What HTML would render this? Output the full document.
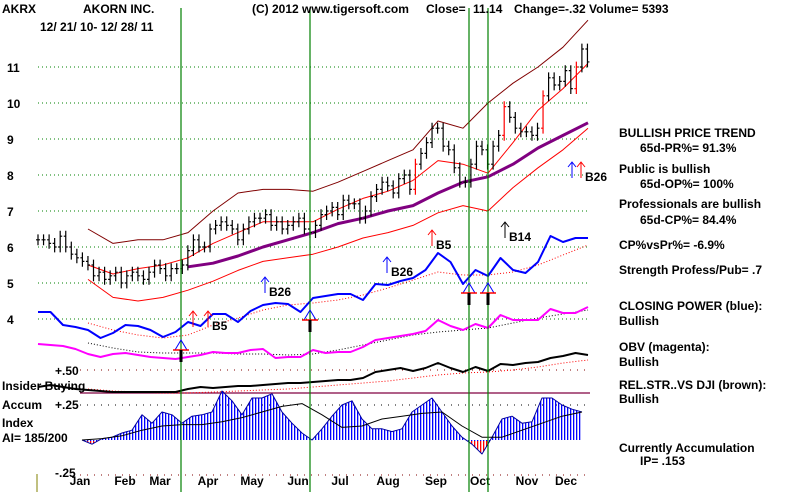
<!DOCTYPE html>
<html><head><meta charset="utf-8"><style>
body{margin:0;background:#fff}
svg{display:block}
text{font-family:"Liberation Sans",sans-serif;font-weight:bold;font-size:12px;fill:#000}
</style></head><body>
<svg id="chart" width="800" height="492" viewBox="0 0 800 492">
<defs>
<pattern id="blueStripe" width="3" height="4" patternUnits="userSpaceOnUse"><rect x="0" y="0" width="1.3" height="4" fill="#0000ff"/></pattern>
<pattern id="redStripe" width="3" height="4" patternUnits="userSpaceOnUse"><rect x="0" y="0" width="1.3" height="4" fill="#ff0000"/></pattern>
<clipPath id="above"><rect x="0" y="0" width="800" height="441"/></clipPath>
<clipPath id="below"><rect x="0" y="441" width="800" height="60"/></clipPath>
</defs>
<g id="grid"></g>
<g id="marks"></g>
<g id="labels">
<text x="2" y="13">AKRX</text>
<text x="83" y="13">AKORN INC.</text>
<text x="40" y="31">12/ 21/ 10- 12/ 28/ 11</text>
<text x="252" y="13">(C) 2012 www.tigersoft.com</text>
<text x="426" y="13">Close=</text>
<text x="473" y="13">11.14</text>
<text x="514" y="13">Change=-.32 Volume= 5393</text>
<text x="55" y="375">+.50</text>
<text x="2" y="390">Insider Buying</text>
<text x="2" y="409">Accum</text>
<text x="55" y="409">+.25</text>
<text x="2" y="427">Index</text>
<text x="2" y="442">AI= 185/200</text>
<text x="55" y="477">-.25</text>
<g>
<text x="619" y="137">BULLISH PRICE TREND</text>
<text x="640" y="152">65d-PR%= 91.3%</text>
<text x="619" y="173">Public is bullish</text>
<text x="640" y="188">65d-OP%= 100%</text>
<text x="619" y="208">Professionals are bullish</text>
<text x="640" y="224">65d-CP%= 84.4%</text>
<text x="619" y="249">CP%vsPr%= -6.9%</text>
<text x="619" y="274">Strength Profess/Pub= .7</text>
<text x="619" y="310">CLOSING POWER (blue):</text>
<text x="619" y="325">Bullish</text>
<text x="619" y="351">OBV (magenta):</text>
<text x="619" y="366">Bullish</text>
<text x="619" y="389">REL.STR..VS DJI (brown):</text>
<text x="619" y="403">Bullish</text>
<text x="619" y="452">Currently Accumulation</text>
<text x="640" y="465">IP=  .153</text>
</g>
</g>
</svg>
<script>
const priceTicks=[11,10,9,8,7,6,5,4];
const months=["Jan","Feb","Mar","Apr","May","Jun","Jul","Aug","Sep","Oct","Nov","Dec"];
const monthX=[80,125,160,208,252,298,340,388,436,480,527,566];
const signalLines=[181,310,469,488];
const closes=[6.2,6.2,6.1,6.0,6.3,6.0,5.8,5.7,5.6,5.5,
5.2,5.3,5.1,5.2,5.3,5.0,5.2,5.3,5.2,5.1,
5.3,5.5,5.4,5.2,5.4,5.4,5.5,5.9,6.2,6.0,
6.0,6.5,6.6,6.7,6.6,6.5,6.2,6.5,6.7,6.8,
6.8,6.9,6.6,6.7,6.5,6.6,6.7,6.8,6.5,6.4,
6.6,6.9,7.0,7.1,6.9,7.3,7.2,7.2,6.8,7.0,
7.4,7.6,7.8,7.7,7.5,7.9,8.0,7.6,8.3,8.6,
8.9,9.3,9.3,8.8,8.7,8.2,7.8,7.8,8.3,8.8,
8.7,8.3,8.8,9.1,9.9,9.6,9.3,9.2,9.2,9.1,
9.3,10.2,10.7,10.5,10.6,10.9,10.4,11.0,11.5,11.14];
const upperBand=[null,null,6.5,6.1,6.2,6.2,6.4,7.0,7.5,7.6,7.6,7.55,7.8,8.1,8.4,8.7,9.5,9.3,10.0,10.55,11.0,11.55,12.3];
const midMA=[null,null,5.5,5.25,5.4,5.5,5.7,6.1,6.4,6.7,6.7,6.7,7.05,7.35,7.55,7.85,8.4,8.3,8.05,8.9,9.8,10.4,11.1];
const lowerBand=[null,null,5.1,4.6,4.5,4.6,4.8,5.05,5.35,5.6,5.7,5.8,6.0,6.25,6.4,6.6,6.95,7.15,7.0,7.65,8.2,8.7,9.3];
const ma65=[null,null,null,null,null,null,5.45,5.55,5.75,6.0,6.2,6.4,6.65,6.8,7.0,7.15,7.5,7.8,7.95,8.3,8.75,9.1,9.45];
const closingPower=[38,38,25,23,20,12,17,25,24,20,13,18,28,24,36,36,28,39,45,47,46,38,52,54,56,56,50,66,65,69,72,80,97,88,66,80,74,92,80,77,88,114,108,112,112];
const cpMA=[null,null,27,20,15,12,15,25,32,40,45,47,50,55,62,70,78,75,75,78,85,95,105];
const obv=[56,55,54,51,46,43,46,47,45,43,42,41,43,45,48,47,47,50,51,42,43,43,50,47,48,48,53,60,62,64,66,69,80,74,70,76,72,85,80,80,80,91,87,87,93];
const obvMA=[null,null,57,52,48,47,47,47,46,46,45,46,50,55,60,65,68,70,72,77,82,86,90];
const relStr=[13,15,13,11,10,9,8,8,8,8,8,8,11,13,12,13,14,14,15,16,17,17,18,19,20,20,22,28,30,32,29,32,37,32,28,33,29,36,35,37,38,42,44,47,45];
const relStrMA=[null,null,11,9,8,7,7,8,9,10,11,13,15,17,19,22,25,27,28,30,33,37,40];
const accumIndex=[0.0,-0.03,0.01,0.02,0.05,0.07,0.18,0.12,0.2,0.18,0.12,0.17,0.18,0.2,0.35,0.28,0.18,0.3,0.3,0.33,0.2,0.12,0.05,0.0,0.08,0.17,0.25,0.28,0.15,0.08,0.08,0.06,0.08,0.2,0.25,0.3,0.2,0.1,0.02,-0.03,-0.1,0.02,0.15,0.17,0.12,0.13,0.3,0.3,0.25,0.22,0.2];
const accumMA=[0,0.01,0.03,0.07,0.1,0.11,0.11,0.13,0.16,0.2,0.24,0.26,0.18,0.09,0.1,0.15,0.17,0.19,0.2,0.1,0.02,0.02,0.07,0.12,0.17,0.2];

const NS="http://www.w3.org/2000/svg";
const grid=document.getElementById('grid'), marks=document.getElementById('marks');
const py=p=>67+(11-p)*36;
const bx=i=>38+i*5.55;
const gx=i=>38+i*25;
const fx=i=>38+i*12.5;
const cpY=v=>350-v, obvY=v=>400-v, rsY=v=>400-v, aiY=v=>440-v*140;
const aiX=i=>82+i*10, aiMX=i=>82+i*20;
function mk(tag,attrs,parent){const e=document.createElementNS(NS,tag);for(const k in attrs)e.setAttribute(k,attrs[k]);parent.appendChild(e);return e;}
function poly(arr,xf,yf,style,name){
  const pts=[];arr.forEach((v,i)=>{if(v!==null)pts.push(xf(i).toFixed(1)+','+yf(v).toFixed(1));});
  const e=mk('polyline',Object.assign({points:pts.join(' '),fill:'none','stroke-linejoin':'round'},style),marks);
  
  
}
priceTicks.forEach(p=>{
  const l=mk('line',{x1:38,x2:590,y1:py(p),y2:py(p),stroke:'#008000','stroke-dasharray':'1,3'},grid);
  
  
  const t=mk('text',{x:7,y:py(p)+5},grid);t.textContent=p;
  
  
});
[[370,'#800000'],[405,'#000'],[475,'#800000']].forEach(([y,c])=>{
  const l=mk('line',{x1:80,x2:590,y1:y,y2:y,stroke:c,'stroke-dasharray':'1,6'},grid);
  
  
});
const ins=mk('line',{x1:80,x2:590,y1:393,y2:393,stroke:'#800040','stroke-width':1.3},grid);


const ol=mk('line',{x1:37,x2:37,y1:474,y2:492,stroke:'#808000'},grid);


months.forEach((m,i)=>{
  const t=mk('text',{x:monthX[i],y:485,'text-anchor':'middle'},grid);t.textContent=m;
  
  
});
poly(upperBand,gx,py,{stroke:'#800000','stroke-width':1},'upper-band');
poly(lowerBand,gx,py,{stroke:'#ff0000','stroke-width':1},'lower-band');
poly(midMA,gx,py,{stroke:'#ff0000','stroke-width':1},'moving-average-21d');
poly(ma65,gx,py,{stroke:'#800080','stroke-width':3},'moving-average-65d');
closes.forEach((c,i)=>{
  const x=bx(i);const prev=i>0?closes[i-1]:c;
  const hi=Math.max(c,prev)+0.15, lo=Math.min(c,prev)-0.15;
  const col=(c-prev>0.55)?'#ff0000':'#000';
  const b=mk('path',{d:`M${x},${py(hi)}V${py(lo)}M${x-2},${py(prev)}H${x}M${x},${py(c)}H${x+2}`,stroke:col,'stroke-width':1.2,fill:'none'},marks);
  
  
});
poly(cpMA,gx,cpY,{stroke:'#ff0000','stroke-dasharray':'1,2'},'closing-power-ma');
poly(closingPower,fx,cpY,{stroke:'#0000ff','stroke-width':2},'closing-power-line');
poly(obvMA,gx,obvY,{stroke:'#000','stroke-dasharray':'1,2'},'obv-ma');
poly(obv,fx,obvY,{stroke:'#ff00ff','stroke-width':2},'obv-line');
poly(relStrMA,gx,rsY,{stroke:'#ff0000','stroke-dasharray':'1,2'},'relative-strength-ma');
poly(relStr,fx,rsY,{stroke:'#000','stroke-width':2},'relative-strength-line');
let d=`M${aiX(0)},${aiY(0)}`;
accumIndex.forEach((v,i)=>{d+=`L${aiX(i)},${aiY(v)}`;});
d+=`L${aiX(accumIndex.length-1)},${aiY(0)}Z`;
const ha=mk('path',{d:d,fill:'url(#blueStripe)','clip-path':'url(#above)'},marks);


const hb=mk('path',{d:d,fill:'url(#redStripe)','clip-path':'url(#below)'},marks);


poly(accumIndex,aiX,aiY,{stroke:'#0000a0','stroke-width':1},'accum-index-outline');
poly(accumMA,aiMX,aiY,{stroke:'#000','stroke-width':1},'accum-index-ma');
signalLines.forEach(x=>{
  const l=mk('line',{x1:x,x2:x,y1:8,y2:492,stroke:'#008000','stroke-width':1.2},marks);
  
  
});
function arrow(x,y,col,label,name){
  const a=mk('path',{d:`M${x},${y+16}V${y}M${x-4},${y+5}L${x},${y}L${x+4},${y+5}`,stroke:col,fill:'none','stroke-width':1},marks);
  
  
  if(label){const t=mk('text',{x:x+4,y:y+19},marks);t.textContent=label;
    
    }
}
arrow(193,311,'#ff0000',null,'buy-arrow-b5a');
arrow(208,311,'#ff0000','B5','buy-arrow-b5b');
arrow(265,277,'#0000ff','B26','buy-arrow-b26a');
arrow(387,257,'#0000ff','B26','buy-arrow-b26b');
arrow(432,230,'#ff0000','B5','buy-arrow-b5c');
arrow(505,222,'#000','B14','buy-arrow-b14');
arrow(572,162,'#0000ff',null,'buy-arrow-b26c');
arrow(581,162,'#ff0000','B26','buy-arrow-b26d');
function tri(x,y,name){
  const g=mk('g',{},marks);
  
  
  mk('path',{d:`M${x-6},${y+10}L${x},${y}L${x+6},${y+10}Z`,fill:'none',stroke:'#0000ff'},g);
  mk('line',{x1:x-8,x2:x+8,y1:y+10,y2:y+10,stroke:'#ff0000','stroke-width':1.5},g);
  mk('line',{x1:x,x2:x,y1:y+10,y2:y+22,stroke:'#000','stroke-width':3},g);
}
tri(181,340,'signal-triangle-mar');
tri(310,310,'signal-triangle-jun');
tri(469,283,'signal-triangle-sep');
tri(488,283,'signal-triangle-oct');
</script>
</body></html>
